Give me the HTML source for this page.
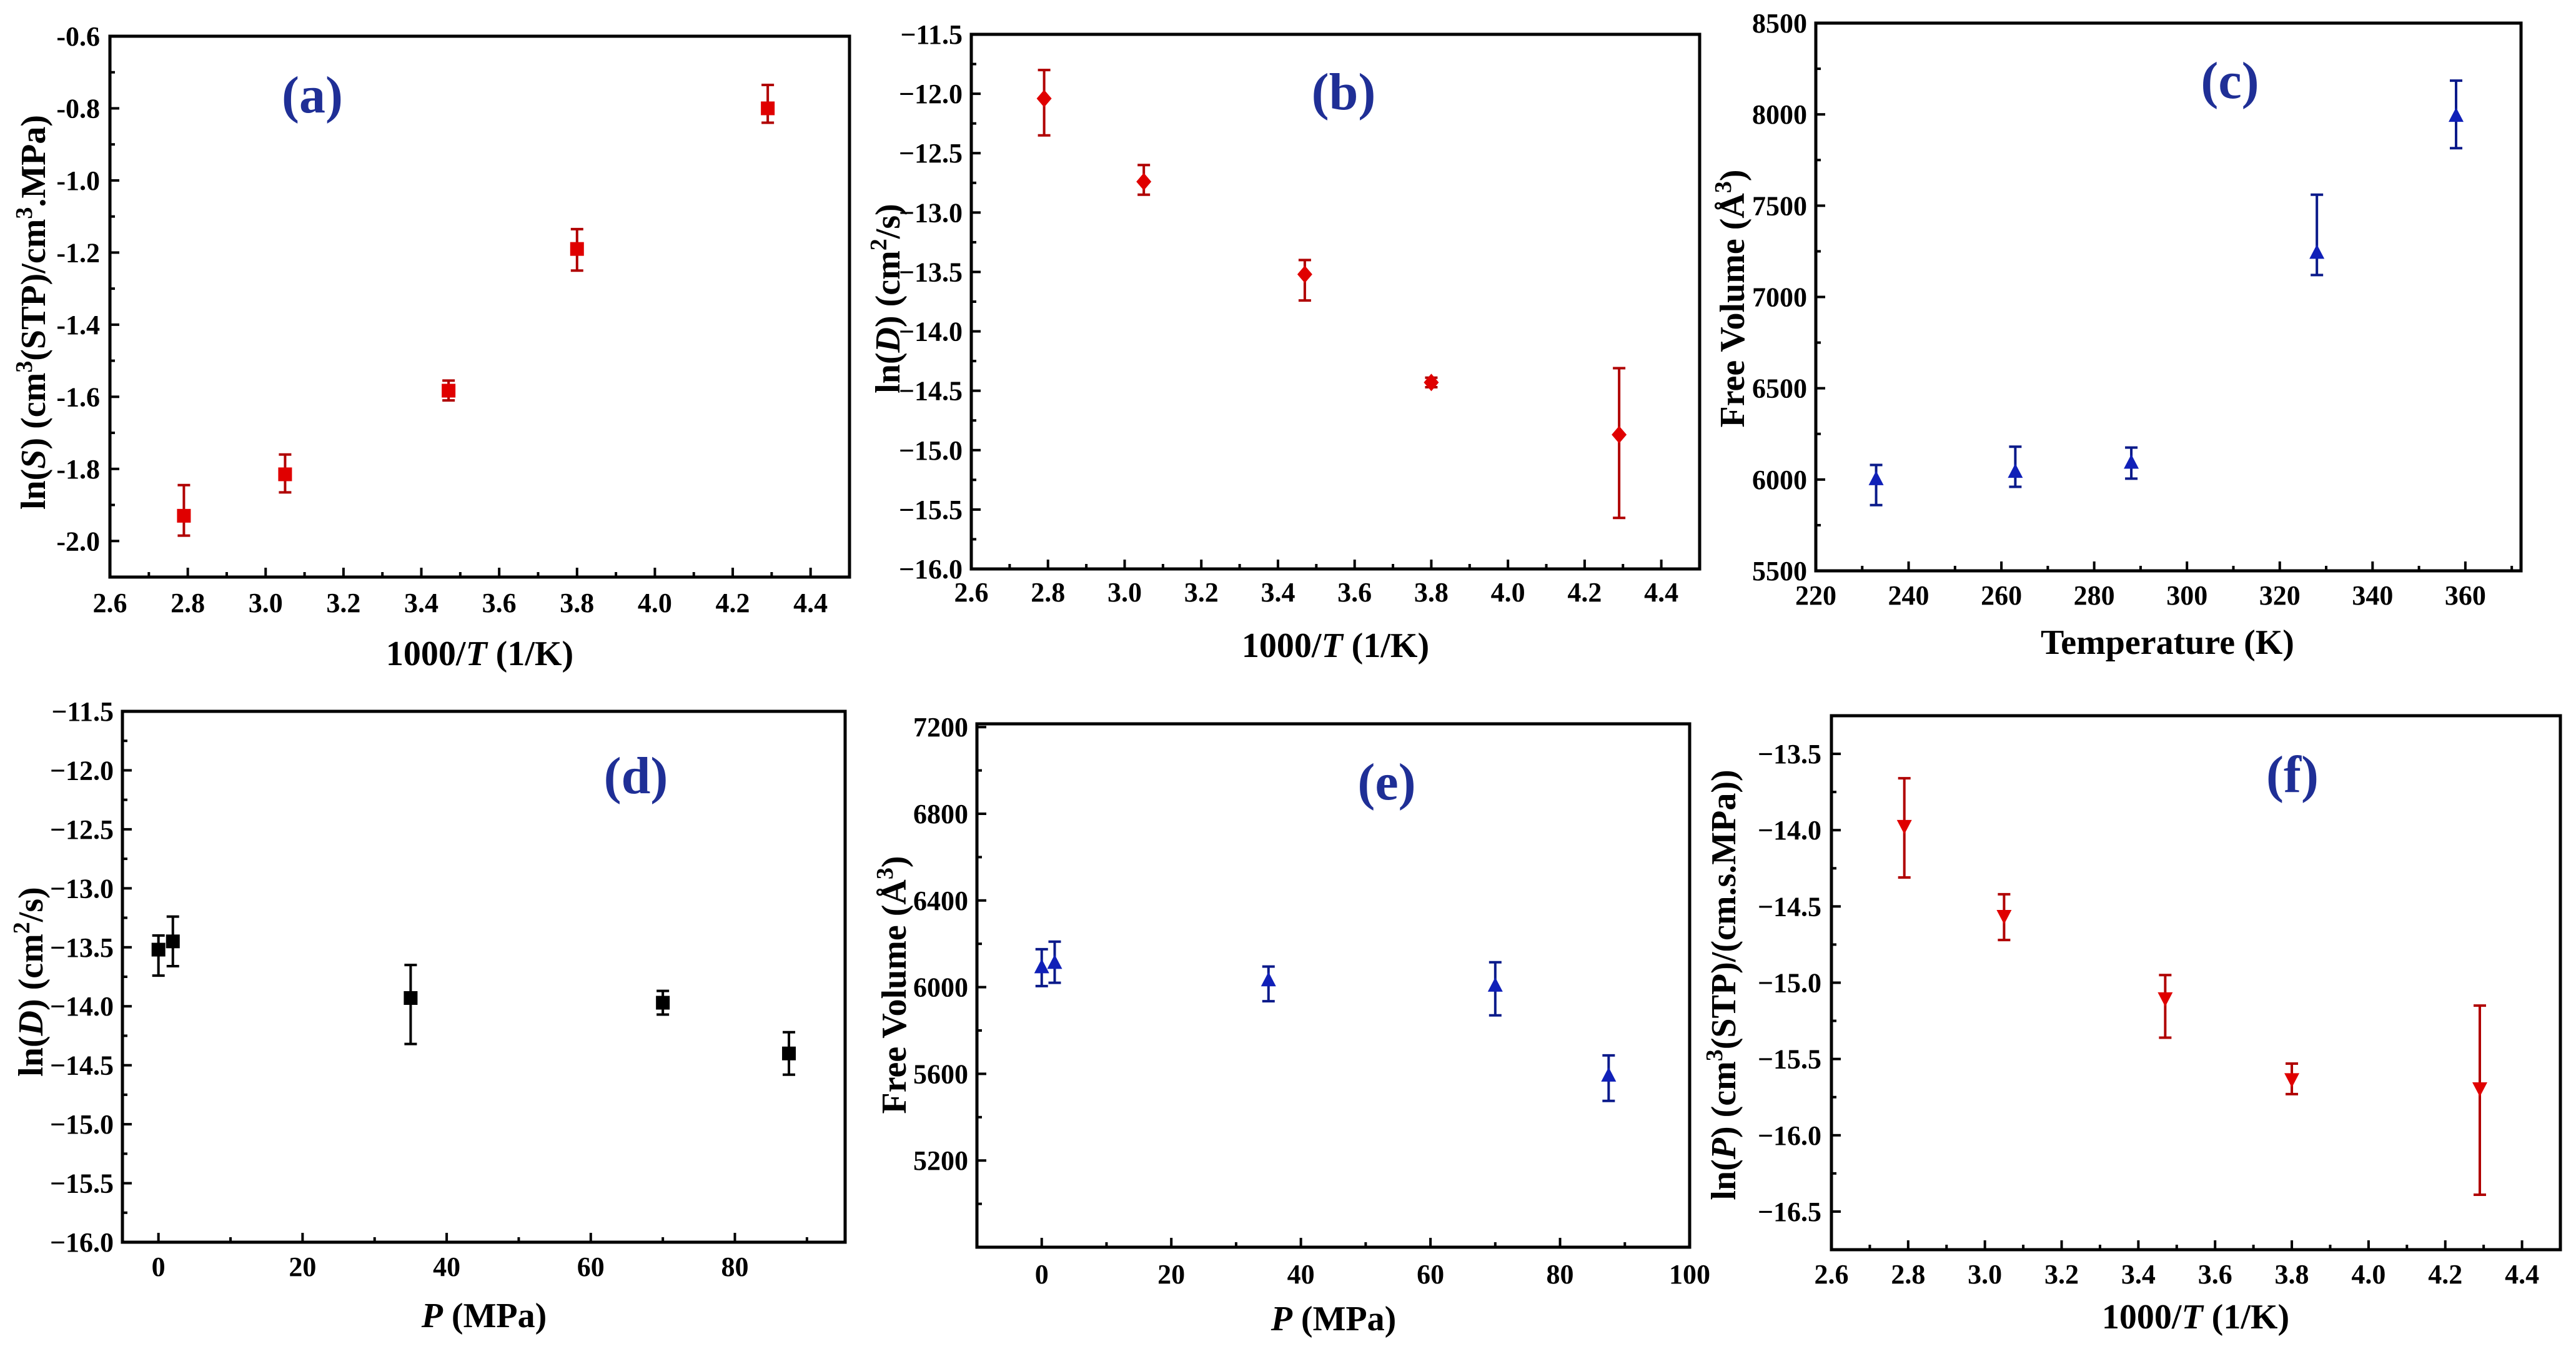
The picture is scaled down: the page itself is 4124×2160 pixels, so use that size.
<!DOCTYPE html>
<html><head><meta charset="utf-8"><style>
html,body{margin:0;padding:0;background:#fff;}
svg{display:block;font-family:"Liberation Serif",serif;font-weight:bold;}
text{font-family:"Liberation Serif",serif;font-weight:bold;}
</style></head><body>
<svg id="fig" width="4124" height="2160" viewBox="0 0 4124 2160" xmlns="http://www.w3.org/2000/svg" font-family="Liberation Serif, serif" font-weight="bold">
<rect width="4124" height="2160" fill="#fff"/>
<g font-size="56" fill="#000" text-anchor="middle">
<text x="768" y="1065">1000/<tspan font-style="italic">T</tspan> (1/K)</text>
<text x="2138" y="1052">1000/<tspan font-style="italic">T</tspan> (1/K)</text>
<text x="3470" y="1047">Temperature (K)</text>
<text x="775" y="2125"><tspan font-style="italic">P</tspan> (MPa)</text>
<text x="2135" y="2130"><tspan font-style="italic">P</tspan> (MPa)</text>
<text x="3515" y="2127">1000/<tspan font-style="italic">T</tspan> (1/K)</text>
<text transform="translate(72,500) rotate(-90)">ln(<tspan font-style="italic">S</tspan>) (cm<tspan baseline-shift="super" font-size="38">3</tspan>(STP)/cm<tspan baseline-shift="super" font-size="38">3</tspan>.MPa)</text>
<text transform="translate(1440,478) rotate(-90)">ln(<tspan font-style="italic">D</tspan>) (cm<tspan baseline-shift="super" font-size="38">2</tspan>/s)</text>
<text transform="translate(2792,478) rotate(-90)">Free Volume (Å<tspan baseline-shift="super" font-size="38">3</tspan>)</text>
<text transform="translate(68,1572) rotate(-90)">ln(<tspan font-style="italic">D</tspan>) (cm<tspan baseline-shift="super" font-size="38">2</tspan>/s)</text>
<text transform="translate(1450,1577) rotate(-90)">Free Volume (Å<tspan baseline-shift="super" font-size="38">3</tspan>)</text>
<text transform="translate(2778,1577) rotate(-90)">ln(<tspan font-style="italic">P</tspan>) (cm<tspan baseline-shift="super" font-size="38">3</tspan>(STP)/(cm.s.MPa))</text>
</g>
<g font-size="84" fill="#1f2f96" text-anchor="middle">
<text x="500" y="180">(a)</text>
<text x="2151" y="175">(b)</text>
<text x="3570" y="157">(c)</text>
<text x="1018" y="1270">(d)</text>
<text x="2220" y="1280">(e)</text>
<text x="3670" y="1268">(f)</text>
</g>
</svg>
<script>
const aX=[2.79,3.05,3.47,3.80,4.29];
const aY=[-1.93,-1.815,-1.583,-1.19,-0.80];
const aHi=[-1.845,-1.76,-1.555,-1.135,-0.735];
const aLo=[-1.985,-1.865,-1.61,-1.25,-0.84];
const aXTicks=["2.6","2.8","3.0","3.2","3.4","3.6","3.8","4.0","4.2","4.4"];
const aYTicks=["-0.6","-0.8","-1.0","-1.2","-1.4","-1.6","-1.8","-2.0"];

const bX=[2.79,3.05,3.47,3.80,4.29];
const bY=[-12.04,-12.74,-13.52,-14.43,-14.87];
const bHi=[-11.8,-12.6,-13.4,-14.39,-14.31];
const bLo=[-12.35,-12.85,-13.74,-14.47,-15.57];
const bXTicks=["2.6","2.8","3.0","3.2","3.4","3.6","3.8","4.0","4.2","4.4"];
const bYTicks=["−11.5","−12.0","−12.5","−13.0","−13.5","−14.0","−14.5","−15.0","−15.5","−16.0"];

const cX=[233,263,288,328,358];
const cY=[6000,6040,6090,7240,7990];
const cHi=[6080,6180,6175,7560,8185];
const cLo=[5860,5960,6005,7120,7815];
const cXTicks=["220","240","260","280","300","320","340","360"];
const cYTicks=["5500","6000","6500","7000","7500","8000","8500"];

const dX=[0,2,35,70,87.5];
const dY=[-13.52,-13.45,-13.93,-13.97,-14.40];
const dHi=[-13.4,-13.24,-13.65,-13.87,-14.22];
const dLo=[-13.74,-13.66,-14.32,-14.07,-14.58];
const dXTicks=["0","20","40","60","80"];
const dYTicks=["−11.5","−12.0","−12.5","−13.0","−13.5","−14.0","−14.5","−15.0","−15.5","−16.0"];

const eX=[0,2,35,70,87.5];
const eY=[6090,6110,6030,6005,5590];
const eHi=[6175,6210,6095,6115,5685];
const eLo=[6005,6020,5935,5870,5475];
const eXTicks=["0","20","40","60","80","100"];
const eYTicks=["5200","5600","6000","6400","6800","7200"];

const fX=[2.79,3.05,3.47,3.80,4.29];
const fY=[-13.97,-14.56,-15.10,-15.63,-15.69];
const fHi=[-13.66,-14.42,-14.95,-15.53,-15.15];
const fLo=[-14.31,-14.72,-15.36,-15.73,-16.39];
const fXTicks=["2.6","2.8","3.0","3.2","3.4","3.6","3.8","4.0","4.2","4.4"];
const fYTicks=["−13.5","−14.0","−14.5","−15.0","−15.5","−16.0","−16.5"];

const NS="http://www.w3.org/2000/svg";
const svg=document.getElementById('fig');
function mk(tag,attrs,parent){const e=document.createElementNS(NS,tag);for(const k in attrs)e.setAttribute(k,attrs[k]);(parent||svg).appendChild(e);return e;}
const num=s=>parseFloat(String(s).replace('−','-'));
const TXT={'font-size':44,'font-family':'Liberation Serif, serif','font-weight':'bold',fill:'#000'};

function panel(id,box,xr,yr,xt,yt,xMinorStep,yMinorStep,X,Y,Hi,Lo,marker,fill,barCol,tickY,labelGap){
  const [L,T,R,B]=box;
  const sx=v=>L+(v-xr[0])/(xr[1]-xr[0])*(R-L);
  const sy=v=>B-(v-yr[0])/(yr[1]-yr[0])*(B-T);
  const g=mk('g',{});
  
  
  const tg=mk('g',{stroke:'#000','stroke-width':4},g);
  for(let v=Math.ceil(xr[0]/xMinorStep-1e-6)*xMinorStep; v<=xr[1]+1e-9; v+=xMinorStep){
    const major=xt.some(t=>Math.abs(num(t)-v)<1e-6);
    const x=sx(v); mk('line',{x1:x,x2:x,y1:B,y2:B-(major?15:8)},tg);
  }
  for(let v=Math.ceil(yr[0]/yMinorStep-1e-6)*yMinorStep; v<=yr[1]+1e-9; v+=yMinorStep){
    const major=yt.some(t=>Math.abs(num(t)-v)<1e-6);
    const y=sy(v); mk('line',{x1:L,x2:L+(major?15:8),y1:y,y2:y},tg);
  }
  xt.forEach(t=>{const e=mk('text',Object.assign({x:sx(num(t)),y:B+tickY,'text-anchor':'middle'},TXT),g);e.textContent=t;
    
    });
  yt.forEach(t=>{const e=mk('text',Object.assign({x:L-labelGap,y:sy(num(t))+15,'text-anchor':'end'},TXT),g);e.textContent=t;
    
    });
  const fr=mk('rect',{x:L,y:T,width:R-L,height:B-T,fill:'none',stroke:'#000','stroke-width':5},g);
  
  
  X.forEach((xv,i)=>{
    const x=sx(xv),y=sy(Y[i]),yh=sy(Hi[i]),yl=sy(Lo[i]);
    const eb=mk('path',{d:`M${x},${yh}V${yl}M${x-10},${yh}H${x+10}M${x-10},${yl}H${x+10}`,stroke:barCol,'stroke-width':4,fill:'none'},g);
    
    
    let m; const s=11;
    if(marker==='square') m=mk('rect',{x:x-s,y:y-s,width:2*s,height:2*s,fill:fill},g);
    else if(marker==='diamond') m=mk('path',{d:`M${x},${y-14}L${x+12},${y}L${x},${y+14}L${x-12},${y}Z`,fill:fill},g);
    else if(marker==='up') m=mk('path',{d:`M${x},${y-14}L${x+12},${y+9}L${x-12},${y+9}Z`,fill:fill},g);
    else m=mk('path',{d:`M${x},${y+14}L${x+12},${y-9}L${x-12},${y-9}Z`,fill:fill},g);
    
    
  });
}
panel('a',[176,58,1360,924],[2.6,4.5],[-2.1,-0.6],aXTicks,aYTicks,0.1,0.1,aX,aY,aHi,aLo,'square','#e00000','#b00000',56,16);
panel('b',[1555,55,2721,911],[2.6,4.5],[-16,-11.5],bXTicks,bYTicks,0.1,0.25,bX,bY,bHi,bLo,'diamond','#e00000','#b00000',52,14);
panel('c',[2907,37,4036,914],[220,372],[5500,8500],cXTicks,cYTicks,10,250,cX,cY,cHi,cLo,'up','#1020b8','#0a1a8a',54,14);
panel('d',[196,1139,1353,1989],[-5,95.3],[-16,-11.5],dXTicks,dYTicks,10,0.25,dX,dY,dHi,dLo,'square','#000','#000',54,14);
panel('e',[1564,1159,2705,1997],[-10,100],[4800,7215],eXTicks,eYTicks,10,200,eX,eY,eHi,eLo,'up','#1020b8','#0a1a8a',58,14);
panel('f',[2932,1146,4099,2001],[2.6,4.5],[-16.75,-13.25],fXTicks,fYTicks,0.1,0.25,fX,fY,fHi,fLo,'down','#e00000','#b00000',54,16);
</script>
</body></html>
